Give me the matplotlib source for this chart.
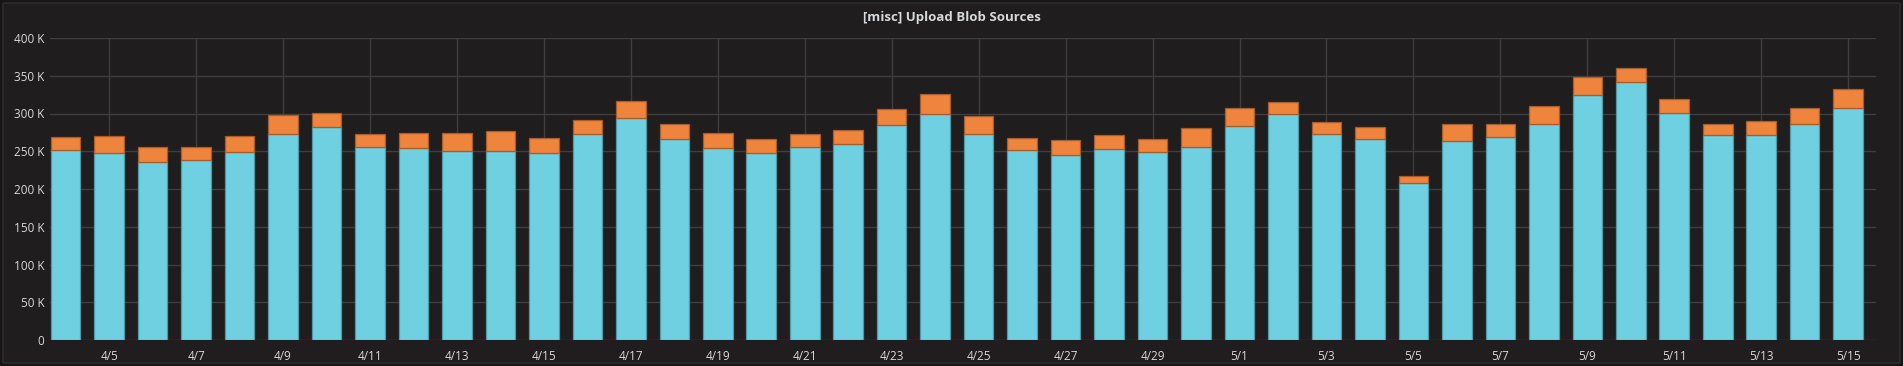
import matplotlib
matplotlib.use("Agg")
import matplotlib.pyplot as plt
from matplotlib.patches import FancyBboxPatch
from matplotlib.ticker import FuncFormatter, MultipleLocator
import numpy as np

# daily upload counts, 4/4 .. 5/15 (values in thousands)
days = [f"4/{d}" for d in range(4, 31)] + [f"5/{d}" for d in range(1, 16)]
total_k = [269.3, 270.2, 255.7, 255.3, 270.2, 297.8, 301.3, 272.8, 273.7, 273.7,
           276.8, 267.1, 290.8, 316.2, 286.0, 273.7, 266.2, 272.8, 278.1, 305.3,
           325.9, 296.5, 267.1, 264.5, 271.1, 266.7, 280.3, 307.0, 314.9, 288.6,
           282.5, 217.1, 286.4, 286.0, 309.6, 348.7, 360.5, 319.3, 285.5, 290.4,
           307.5, 332.0]
blue_k = [251.8, 248.2, 236.4, 238.6, 248.7, 273.2, 281.6, 256.1, 253.9, 250.0,
          250.9, 248.2, 273.2, 294.7, 266.7, 254.8, 247.4, 256.1, 260.1, 284.2,
          299.6, 273.2, 251.3, 245.6, 252.6, 249.6, 256.1, 283.3, 299.1, 273.2,
          265.8, 207.5, 264.0, 269.3, 285.5, 325.0, 342.1, 301.3, 271.1, 271.5,
          286.4, 307.9]
title = "[misc] Upload Blob Sources"

blue = np.array(blue_k) * 1000
orange = (np.array(total_k) - np.array(blue_k)) * 1000
x = np.arange(len(days))

BG = "#1f1d1e"
TXT = "#d8d9da"
GRID = "#3e3e3e"

W, H = 1903, 366
fig = plt.figure(figsize=(W / 100, H / 100), dpi=100, facecolor="#161616")
fig.patches.append(FancyBboxPatch((3 / W, 3 / H), (W - 6) / W, (H - 6) / H,
                                  boxstyle="round,pad=0,rounding_size=0.002",
                                  transform=fig.transFigure, facecolor=BG,
                                  edgecolor="#2c2c2c", linewidth=1.2, zorder=-10))

ax = fig.add_axes([50 / W, (H - 340) / H, 1826 / W, 302 / H])
ax.set_facecolor(BG)
ax.patch.set_alpha(0)

w = 0.68
ax.bar(x, blue, width=w, color="#6ed0e0", edgecolor="#4f98a6", linewidth=0.9, zorder=3)
ax.bar(x, orange, bottom=blue, width=w, color="#ef843c", edgecolor="#a85c2c",
       linewidth=0.9, zorder=3)

ax.set_xlim(-0.36, len(days) - 0.36)
ax.set_ylim(0, 400000)
ax.yaxis.set_major_locator(MultipleLocator(50000))
ax.yaxis.set_major_formatter(FuncFormatter(lambda v, _: "0" if v == 0 else f"{int(v / 1000)} K"))
ax.set_xticks(x[1::2])
ax.set_xticklabels(days[1::2])

ax.grid(True, color=GRID, linewidth=1, zorder=0)
ax.set_axisbelow(True)
for s in ax.spines.values():
    s.set_visible(False)
ax.tick_params(length=0, colors=TXT, labelsize=8.5)
ax.tick_params(axis="y", pad=4)
ax.tick_params(axis="x", pad=7)
for lab in ax.get_xticklabels() + ax.get_yticklabels():
    lab.set_fontfamily("Open Sans")

fig.text(0.5, 1 - 17 / H, title, ha="center", va="center", color=TXT,
         fontsize=9.5, fontweight="bold", fontfamily="Open Sans")

fig.savefig("out.png", dpi=100, facecolor=fig.get_facecolor())
